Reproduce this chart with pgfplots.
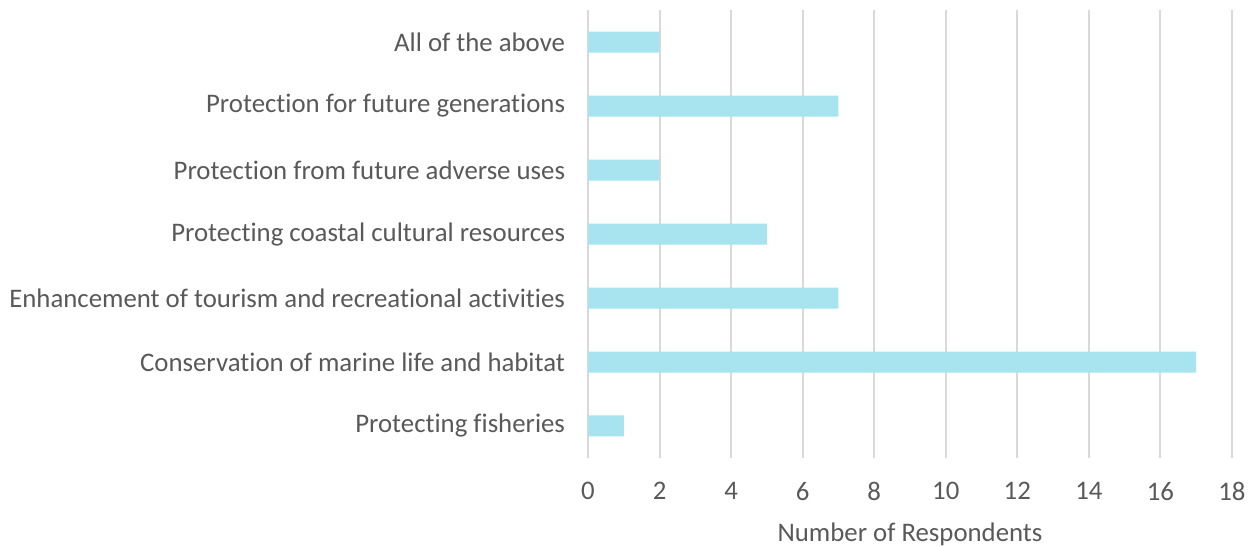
\documentclass[border=0pt]{standalone}
\usepackage{pgfplots}
\pgfplotsset{compat=1.18}
\usepackage{fontspec}
\setmainfont{Carlito}[Ligatures={NoCommon}]
\definecolor{barc}{HTML}{A8E3F0}
\definecolor{gridc}{HTML}{D9D9D9}
\definecolor{txt}{HTML}{595959}
\begin{document}
\begin{tikzpicture}
\begin{axis}[
  scale only axis, width=322pt, height=224pt,
  xbar, bar width=10.5pt,
  xmin=0, xmax=18, xtick={0,2,...,18},
  ymin=-0.5, ymax=6.5, ytick={0,...,6},
  yticklabels={Protecting fisheries,Conservation of marine life and habitat,Enhancement of tourism and recreational activities,Protecting coastal cultural resources,Protection from future adverse uses,Protection for future generations,All of the above},
  axis line style={draw=none},
  xmajorgrids, major grid style={gridc, line width=1pt},
  tick style={draw=none},
  font=\fontsize{13.4}{16}\selectfont,
  ticklabel style={txt},
  /pgf/number format/assume math mode=true,
  xticklabel style={yshift=-8.5pt},
  yticklabel style={xshift=-3.7pt},
  xlabel={Number of Respondents},
  xlabel style={txt, at={(axis description cs:0.5,0)}, anchor=center, yshift=-38pt},
  clip=false,
]
\addplot[fill=barc, draw=none] coordinates {(1,0) (17,1) (7,2) (5,3) (2,4) (7,5) (2,6)};
\coordinate (sw) at (rel axis cs:0,0);
\end{axis}
\pgfresetboundingbox
\path[use as bounding box] ([shift={(-294pt,-44pt)}]sw) rectangle ([shift={(333pt,229pt)}]sw);
\end{tikzpicture}
\end{document}
